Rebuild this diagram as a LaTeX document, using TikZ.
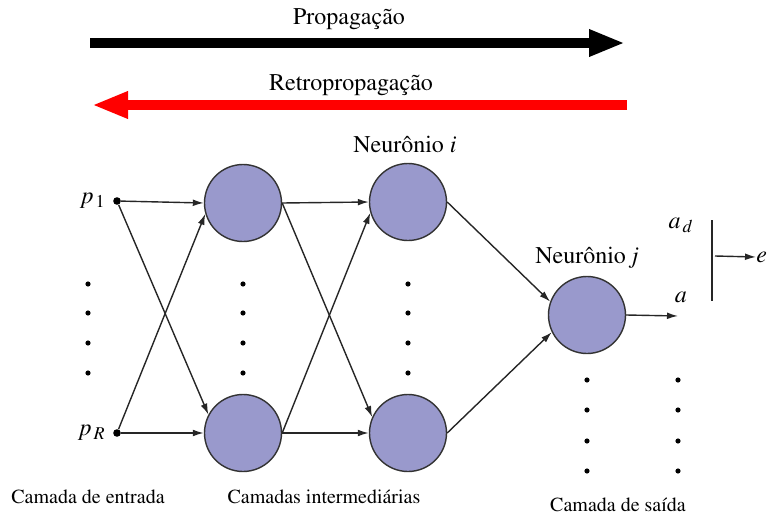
\documentclass[tikz,border=0pt]{standalone}
\usepackage[T1]{fontenc}
\usepackage{mathptmx}
\usetikzlibrary{arrows.meta}
\definecolor{neuronfill}{RGB}{153,153,204}
\tikzset{
  neuron/.style={circle,draw=black!80,fill=neuronfill,line width=0.7pt,minimum size=38.5pt,inner sep=0pt},
  entry/.style={circle,fill=black,minimum size=3.8pt,inner sep=0pt},
  syn/.style={-{Latex[length=5.5pt,width=3.4pt]},line width=0.7pt,black!85},
  bigarrow/.style={line width=5.2pt,-{Triangle[length=18pt,width=12.5pt]}},
  lbl/.style={font=\fontsize{12}{14}\selectfont},
  layer/.style={font=\fontsize{10}{12}\selectfont},
}

\begin{document}
\begin{tikzpicture}[x=0.5pt,y=-0.5pt]
  \useasboundingbox (0,0) rectangle (768,520);

  % direction arrows
  \coordinate (fwdA) at (90,43) ;
  \coordinate (fwdB) at (625,43) ;
  \coordinate (bwdA) at (627,105) ;
  \coordinate (bwdB) at (92,105) ;
  \draw[bigarrow,black] (fwdA) -- (fwdB) ;
  \draw[bigarrow,red] (bwdA) -- (bwdB) ;
  \node[lbl] (fwd) at (349,19) {Propagação} ;
  \node[lbl] (bwd) at (351,85) {Retropropagação} ;

  % inputs
  \node[entry] (p1) at (117,201) {} ;
  \node[entry] (pR) at (117,433) {} ;
  \node[lbl,anchor=east] (p1lbl) at (p1.west) {$p_{\,1}$\hspace{3pt}} ;
  \node[lbl,anchor=east] (pRlbl) at (pR.west) {$p_{\,R}$\hspace{3pt}} ;

  % neurons
  \node[neuron] (h1) at (243,203) {} ;
  \node[neuron] (h2) at (243,433) {} ;
  \node[neuron] (k1) at (408,202) {} ;
  \node[neuron] (k2) at (408,433) {} ;
  \node[neuron] (o) at (587,315) {} ;
  \node[lbl] (ni) at (405,145) {Neurônio \textit{i}} ;
  \node[lbl] (nj) at (587,258) {Neurônio \textit{j}} ;

  % connections
  \draw[syn] (p1) -- (h1.west) ;
  \draw[syn] (p1) -- (h2.152) ;
  \draw[syn] (pR) -- (h1.196) ;
  \draw[syn] (pR) -- (h2.west) ;
  \draw[syn] (h1.east) -- (k1.west) ;
  \draw[syn] (h1.east) -- (k2.156) ;
  \draw[syn] (h2.east) -- (k1.196) ;
  \draw[syn] (h2.east) -- (k2.west) ;
  \draw[syn] (k1.east) -- (o.160) ;
  \draw[syn] (k2.east) -- (o.206) ;

  % output and error
  \coordinate (aout) at (678,316) ;
  \draw[syn] (o.east) -- (aout) ;
  \node[lbl] (a) at (681,297) {$a$} ;
  \node[lbl] (ad) at (681,225) {$a_{\,d}$} ;
  \coordinate (barT) at (712,220) ;
  \coordinate (barB) at (712,301) ;
  \draw[line width=0.9pt,black!85] (barT) -- (barB) ;
  \coordinate (eA) at (715,256) ;
  \node[lbl,anchor=west,inner sep=0pt] (e) at (756,257) {$e$} ;
  \draw[syn] (eA) -- (e.west) ;

  % dots
  \fill (88,284) circle (1.3pt) ;
  \fill (88,313) circle (1.3pt) ;
  \fill (88,343) circle (1.3pt) ;
  \fill (88,373) circle (1.3pt) ;
  \fill (243,284) circle (1.3pt) ;
  \fill (243,313) circle (1.3pt) ;
  \fill (243,343) circle (1.3pt) ;
  \fill (243,373) circle (1.3pt) ;
  \fill (408,284) circle (1.3pt) ;
  \fill (408,313) circle (1.3pt) ;
  \fill (408,343) circle (1.3pt) ;
  \fill (408,373) circle (1.3pt) ;
  \fill (587,380) circle (1.3pt) ;
  \fill (587,410) circle (1.3pt) ;
  \fill (587,441) circle (1.3pt) ;
  \fill (587,471) circle (1.3pt) ;
  \fill (678,380) circle (1.3pt) ;
  \fill (678,410) circle (1.3pt) ;
  \fill (678,441) circle (1.3pt) ;
  \fill (678,471) circle (1.3pt) ;

  % layer names
  \node[layer] (in) at (88,497) {Camada de entrada} ;
  \node[layer] (mid) at (324,497) {Camadas intermediárias} ;
  \node[layer] (out) at (618,505) {Camada de saída} ;
\end{tikzpicture}
\end{document}
